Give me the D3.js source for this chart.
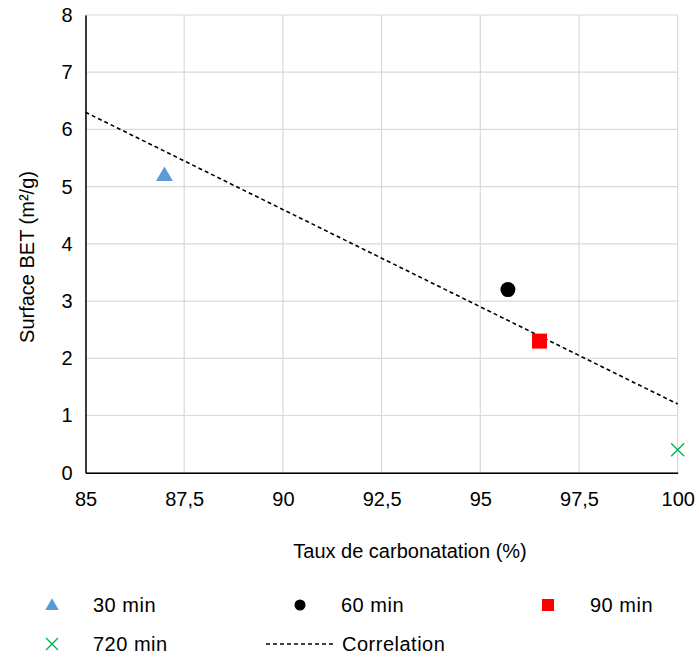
<!DOCTYPE html>
<html><head><meta charset="utf-8">
<script src="https://cdn.jsdelivr.net/npm/d3@7"></script>
<style>body{margin:0;background:#fff}text{font-family:"Liberation Sans",Arial,sans-serif;fill:#000}</style>
</head><body>
<svg id="c" width="699" height="658"></svg>
<script>
const seriesNames = ["30 min", "60 min", "90 min", "720 min"];
const carbonation = [87.0, 95.7, 96.5, 100.0];
const surfaceBET = [5.2, 3.2, 2.3, 0.4];
const seriesColors = ["#5B9BD5", "#000000", "#FF0000", "#00B050"];
const seriesShapes = ["triangle", "circle", "square", "cross"];
const trendX = [85, 100];
const trendY = [6.3, 1.2];
const xTicks = [85, 87.5, 90, 92.5, 95, 97.5, 100];
const yTicks = [0, 1, 2, 3, 4, 5, 6, 7, 8];

const FS = "20px";
const svg = d3.select("#c");
const L = 85.5, R = 677.7, T = 15, B = 472.7;
const x = d3.scaleLinear().domain([85, 100]).range([L, R]);
const y = d3.scaleLinear().domain([0, 8]).range([B, T]);
const fmt = d => String(d).replace(".", ",");

svg.append("g").selectAll("line").data(yTicks).join("line")
  .attr("x1", L).attr("x2", R).attr("y1", d => y(d)).attr("y2", d => y(d))
  .attr("stroke", "#d9d9d9").attr("stroke-width", 1.2);
svg.append("g").selectAll("line").data(xTicks).join("line")
  .attr("y1", T).attr("y2", B).attr("x1", d => x(d)).attr("x2", d => x(d))
  .attr("stroke", "#d9d9d9").attr("stroke-width", 1.2);

const xAxis = svg.append("g").attr("transform", `translate(0,${B})`)
  .call(d3.axisBottom(x).tickValues(xTicks).tickFormat(fmt).tickSize(0).tickPadding(19));
xAxis.select(".domain").attr("stroke", "#000").attr("stroke-width", 1.5);
xAxis.selectAll("text").style("font-size", FS).style("font-family", "Liberation Sans, Arial, sans-serif");
const yAxis = svg.append("g").attr("transform", `translate(${L},0)`)
  .call(d3.axisLeft(y).tickValues(yTicks).tickFormat(fmt).tickSize(0).tickPadding(13));
yAxis.select(".domain").attr("stroke", "#000").attr("stroke-width", 1.5);
yAxis.selectAll("text").style("font-size", FS).style("font-family", "Liberation Sans, Arial, sans-serif");

svg.append("line")
  .attr("x1", x(trendX[0])).attr("y1", y(trendY[0]))
  .attr("x2", x(trendX[1])).attr("y2", y(trendY[1]))
  .attr("stroke", "#000").attr("stroke-width", 1.6).attr("stroke-dasharray", "4,3");

function drawMarker(g, shape, color, cx, cy, s) {
  if (shape === "triangle") {
    g.append("path").attr("d", d3.symbol(d3.symbolTriangle, s*s*0.55)())
      .attr("transform", `translate(${cx},${cy+1})`).attr("fill", color);
  } else if (shape === "circle") {
    g.append("circle").attr("cx", cx).attr("cy", cy).attr("r", s/2).attr("fill", color);
  } else if (shape === "square") {
    g.append("rect").attr("x", cx - s/2).attr("y", cy - s/2).attr("width", s).attr("height", s).attr("fill", color);
  } else {
    const h = s/2;
    g.append("path").attr("d", `M${cx-h},${cy-h}L${cx+h},${cy+h}M${cx-h},${cy+h}L${cx+h},${cy-h}`)
      .attr("stroke", color).attr("stroke-width", 1.3).attr("fill", "none");
  }
}

const pts = svg.append("g");
carbonation.forEach((cv, i) => {
  drawMarker(pts, seriesShapes[i], seriesColors[i], x(cv), y(surfaceBET[i]), seriesShapes[i] === "cross" ? 13 : 15);
});

svg.append("text").attr("x", 410).attr("y", 558).attr("text-anchor", "middle")
  .style("font-size", FS).text("Taux de carbonatation (%)");
svg.append("text").attr("transform", "translate(34,257) rotate(-90)").attr("text-anchor", "middle")
  .style("font-size", FS).text("Surface BET (m²/g)");

const legendPos = [[52, 605, 93], [300, 605, 341], [548, 605, 590], [52, 644, 93]];
const lg = svg.append("g");
seriesNames.forEach((n, i) => {
  const [mx, my, tx] = legendPos[i];
  drawMarker(lg, seriesShapes[i], seriesColors[i], mx, my, seriesShapes[i] === "circle" ? 11 : 12);
  lg.append("text").attr("x", tx).attr("y", my + 7).style("font-size", FS)
    .style("letter-spacing", "0.5px").text(n);
});
lg.append("line").attr("x1", 266).attr("x2", 334).attr("y1", 644).attr("y2", 644)
  .attr("stroke", "#000").attr("stroke-width", 1.3).attr("stroke-dasharray", "4,3");
lg.append("text").attr("x", 342).attr("y", 651).style("font-size", FS)
  .style("letter-spacing", "0.5px").text("Correlation");
</script>
</body></html>
